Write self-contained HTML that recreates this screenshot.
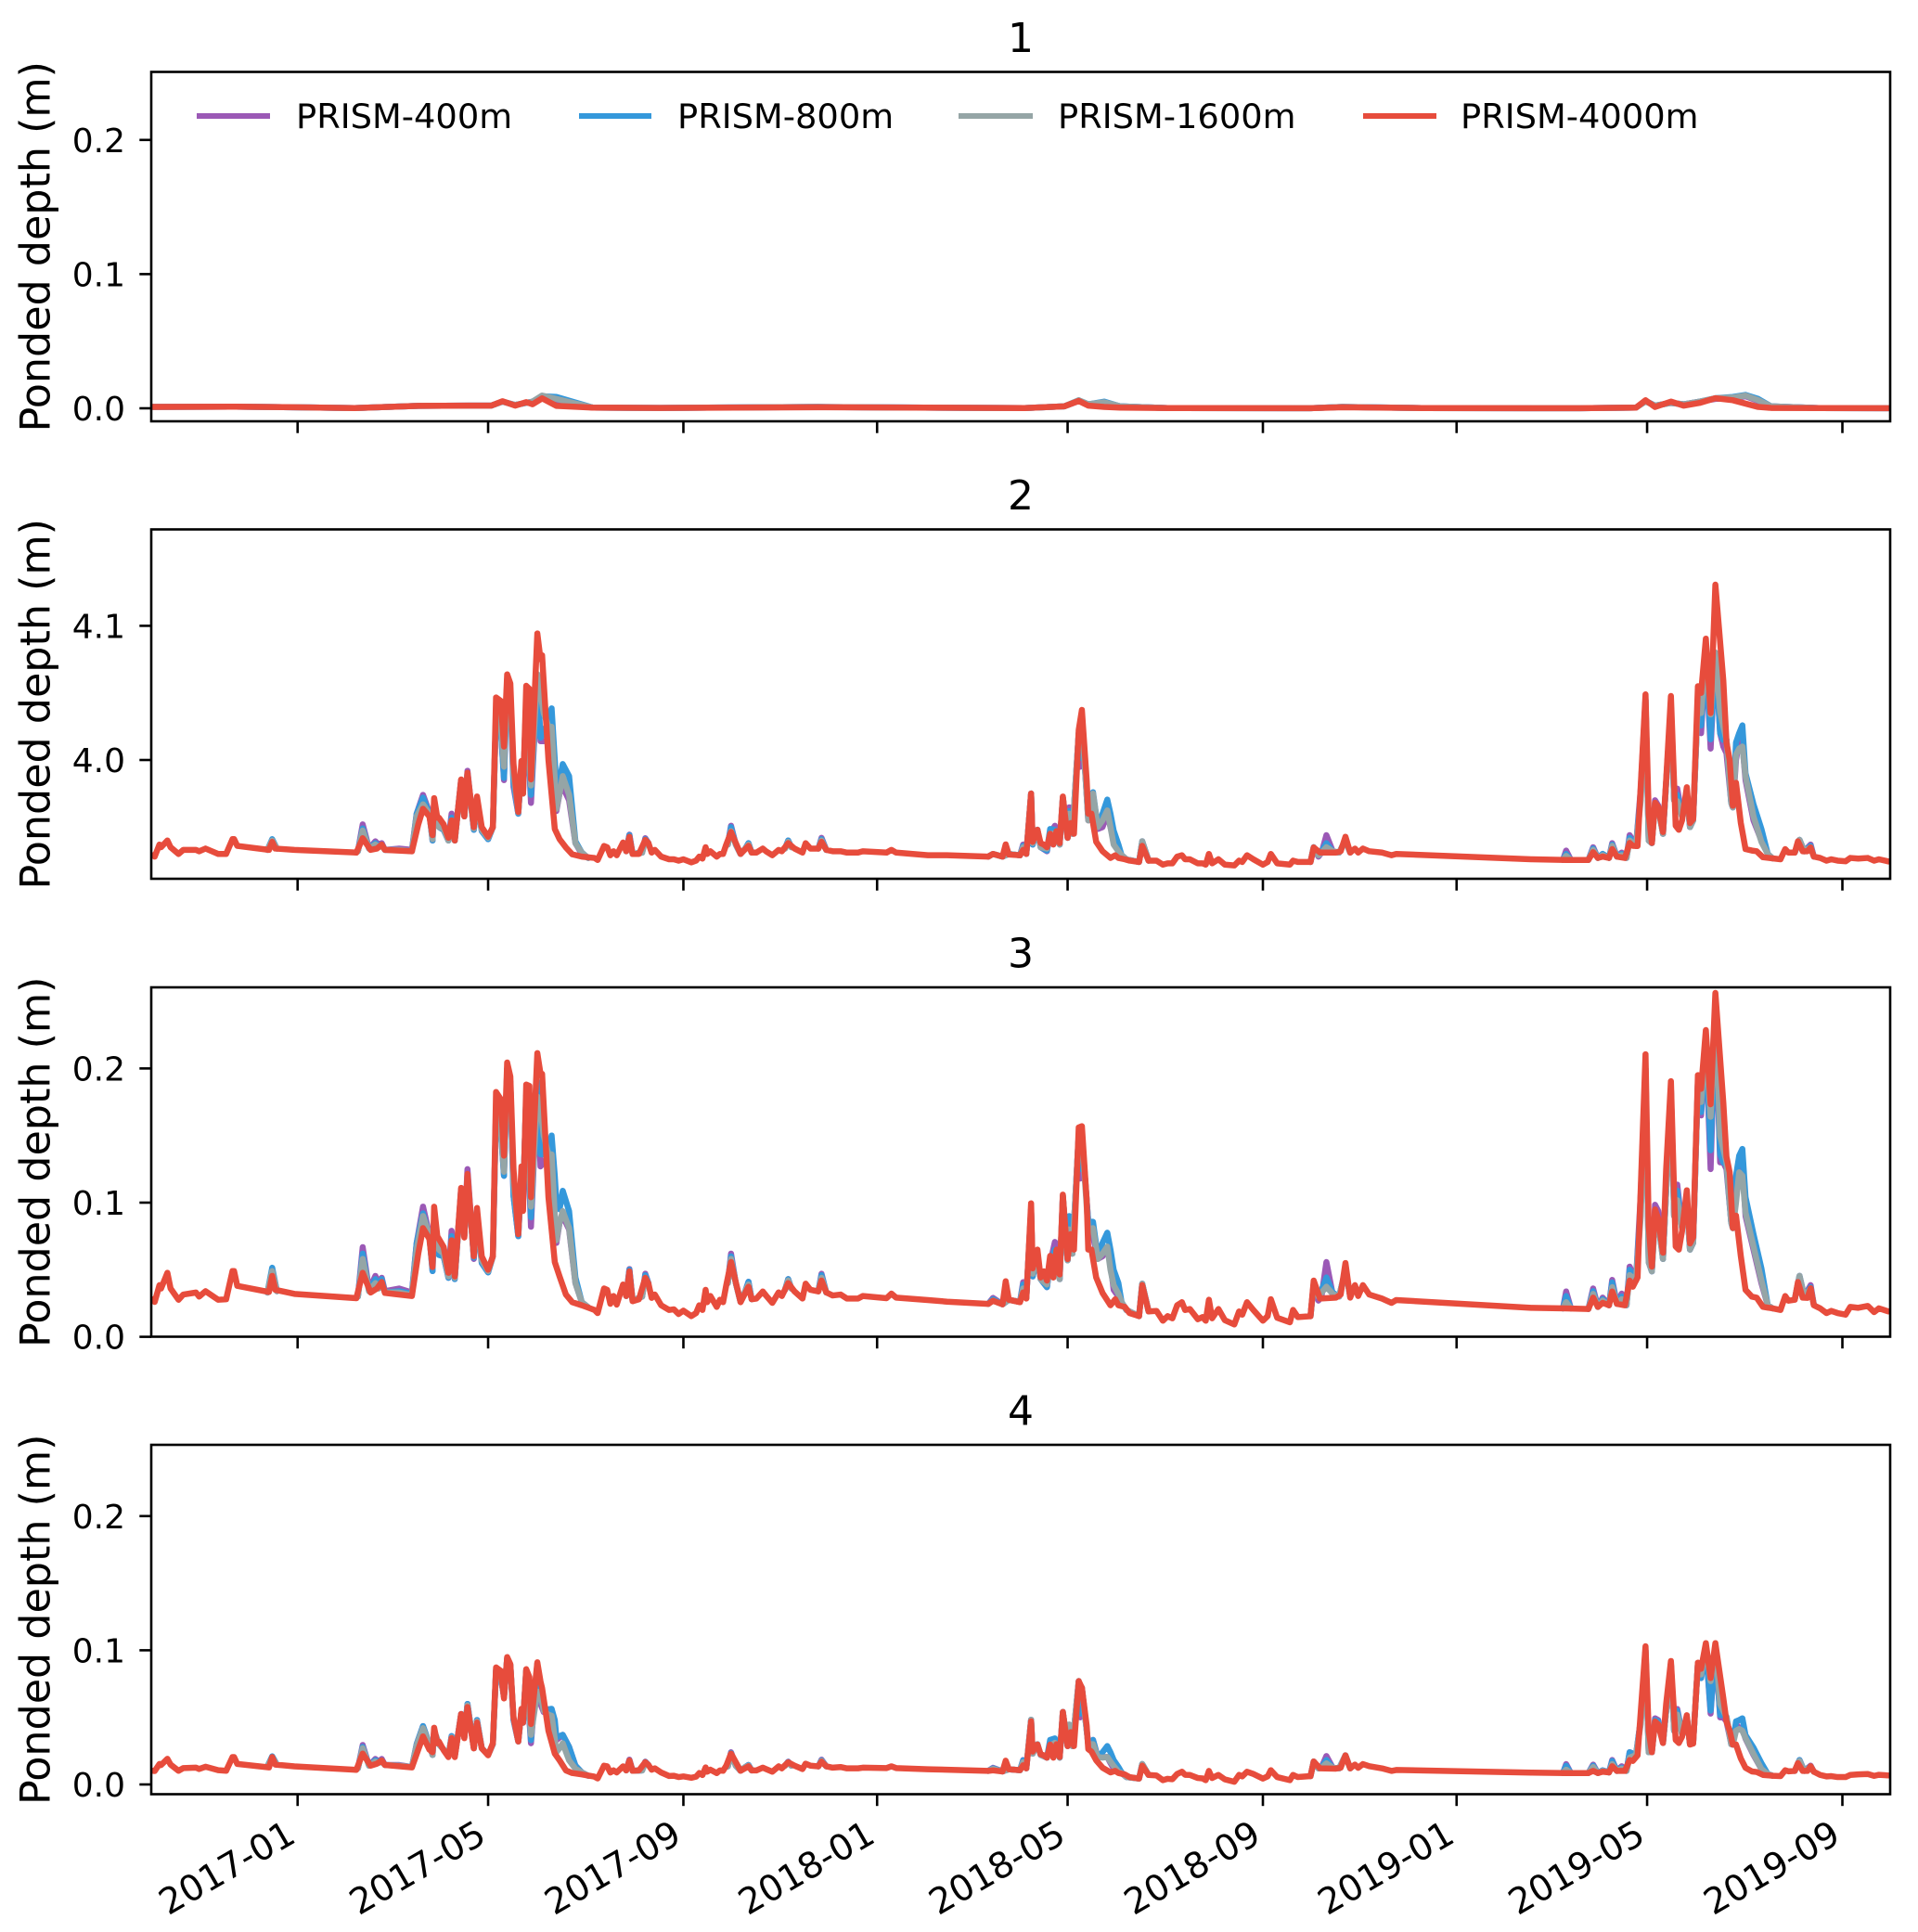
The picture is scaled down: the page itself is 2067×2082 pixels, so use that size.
<!DOCTYPE html>
<html lang="en">
<head>
<meta charset="utf-8">
<title>Ponded depth by PRISM resolution</title>
<style>
html,body{margin:0;padding:0;background:#fff;}
svg{display:block;font-family:"DejaVu Sans","Liberation Sans",sans-serif;fill:#000;}
</style>
</head>
<body>
<svg id="chart" xmlns="http://www.w3.org/2000/svg" width="2067" height="2082" viewBox="0 0 2067 2082">
<rect width="2067" height="2082" fill="#ffffff"/>
<g id="panels"></g>
<g font-size="36.8">
<line x1="212" x2="291" y1="125" y2="125" stroke="#9b59b6" stroke-width="6"/>
<text x="319" y="138">PRISM-400m</text>
<line x1="624" x2="702" y1="125" y2="125" stroke="#3498db" stroke-width="6"/>
<text x="730" y="138">PRISM-800m</text>
<line x1="1033" x2="1113" y1="125" y2="125" stroke="#95a5a6" stroke-width="6"/>
<text x="1140" y="138">PRISM-1600m</text>
<line x1="1469" x2="1548" y1="125" y2="125" stroke="#e74c3c" stroke-width="6"/>
<text x="1574" y="138">PRISM-4000m</text>
</g>
</svg>
<script>
// Categories and tick labels (days are counted from 2016-10-01)
const panelTitles = ['1','2','3','4'];
const yAxisTitle = 'Ponded depth (m)';
const xTickDays = [92,212,335,457,577,700,822,942,1065];
const xTickLabels = ['2017-01','2017-05','2017-09','2018-01','2018-05','2018-09','2019-01','2019-05','2019-09'];
const yTicksLow = [0,0.1,0.2];
const yTicksHigh = [4.0,4.1];

// Panel 1
const days1 = [1,50,90,128,168,200,214,221,229,236,240,246,255,278,320,420,500,550,575,584,590,600,610,640,730,750,800,900,935,941,947,957,965,975,985,996,1004,1012,1020,1050,1094];
const p1Purple = [.001,.0012,.0008,.0002,.0018,.002,.002,.005,.0025,.004,.005,.0085,.006,.0005,.0003,.001,.0004,.0002,.0015,.0055,.003,.004,.0015,.0002,.0001,.001,.0002,.0001,.0005,.0055,.002,.004,.003,.005,.007,.0075,.009,.0055,.0015,.0002,.0001];
const p1Blue = [.001,.0012,.0008,.0002,.0018,.002,.002,.005,.0025,.004,.005,.009,.0085,.0005,.0003,.001,.0004,.0002,.0015,.006,.003,.005,.0015,.0002,.0001,.001,.0002,.0001,.0005,.0055,.002,.004,.003,.005,.0075,.0085,.01,.007,.0015,.0002,.0001];
const p1Gray = [.001,.0012,.0008,.0002,.0018,.002,.002,.005,.0025,.004,.005,.0095,.007,.0005,.0003,.001,.0004,.0002,.0015,.006,.003,.0045,.0015,.0002,.0001,.001,.0002,.0001,.0005,.005,.002,.004,.003,.005,.0075,.008,.0095,.006,.0015,.0002,.0001];
const p1Red = [.001,.0012,.0008,.0002,.0018,.002,.002,.0053,.002,.0046,.003,.0074,.0018,.0005,.0003,.0008,.0004,.0002,.0015,.0055,.002,.001,.0005,.0002,.0001,.0008,.0002,.0001,.0005,.006,.001,.005,.002,.004,.0075,.006,.0035,.001,.0003,.0002,.0001];

// Days for the top (PRISM-4000m) series, panels 2-4
const days = [
1,2,5,6,10,12,17,20,28,30,34,42,47,51,52,54,
74,76,78,90,129,133,138,142,145,147,164,168,171,175,177,178,
180,181,184,187,189,191,195,197,199,203,205,208,212,215,
217,220,222,224,226,228,231,233,234,236,238,239,243,245,246,250,254,257,261,265,
271,279,281,285,287,289,291,293,297,299,301,303,307,311,313,315,317,321,
326,329,332,335,340,343,345,347,349,350,352,356,358,360,362,365,371,376,
378,381,385,387,391,395,397,401,405,410,412,415,420,422,425,429,434,438,445,448,
463,466,469,489,501,527,530,536,538,540,547,549,551,
554,555,558,560,562,564,566,568,570,572,574,577,579,581,
584,586,589,590,592,595,599,604,607,609,613,616,622,624,628,633,637,640,643,
646,649,651,654,659,662,664,666,668,672,676,682,685,687,690,694,700,703,705,709,
717,719,722,730,732,736,746,749,752,755,758,760,763,767,775,781,784,869,891,905,
908,911,914,918,920,923,928,931,933,936,941,943,945,947,949,952,954,
957,960,962,964,967,969,971,974,976,979,982,985,990,992,994,996,998,1001,
1004,1008,1011,1015,1021,1026,1029,1031,1035,1037,1040,1043,1045,1047,1051,1055,1058,1062,1067,1070,1075,1081,1085,1088,1094];

const p2Red = [
3.929,3.928,3.937,3.935,3.94,3.935,3.93,3.933,3.933,3.932,3.934,3.93,3.93,3.941,3.941,3.936,
3.933,3.939,3.934,3.933,3.931,3.9417,3.933,3.934,3.937,3.933,3.932,3.952,3.9636,3.958,3.944,3.9716,
3.957,3.957,3.952,3.942,3.955,3.94,3.9855,3.958,3.9905,3.95,3.9728,3.95,3.9428,3.95,
4.0466,4.044,4.01,4.0638,4.057,3.997,3.9613,3.9993,3.975,4.0553,4.053,3.9855,4.0943,4.075,4.078,4.0,3.9486,3.941,3.9348,3.9297,
3.928,3.927,3.9255,3.9359,3.935,3.929,3.932,3.929,3.9385,3.932,3.9428,3.93,3.93,3.9405,3.938,3.931,3.933,3.928,
3.926,3.926,3.925,3.926,3.9237,3.925,3.928,3.9265,3.935,3.93,3.932,3.928,3.93,3.93,3.937,3.9463,3.93,3.936,
3.931,3.931,3.934,3.932,3.929,3.933,3.932,3.938,3.934,3.931,3.938,3.934,3.934,3.939,3.933,3.932,3.932,3.931,3.931,3.932,
3.931,3.933,3.931,3.929,3.929,3.928,3.93,3.928,3.9371,3.9295,3.929,3.933,3.93,
3.975,3.939,3.948,3.938,3.937,3.935,3.945,3.937,3.947,3.938,3.9728,3.942,3.953,3.945,
4.0224,4.0373,3.985,3.96,3.96,3.939,3.932,3.927,3.929,3.927,3.926,3.925,3.924,3.936,3.925,3.925,3.922,3.923,3.923,
3.928,3.929,3.926,3.926,3.923,3.923,3.922,3.93,3.923,3.926,3.922,3.9214,3.925,3.924,3.929,3.926,3.922,3.924,3.93,3.923,
3.922,3.925,3.924,3.924,3.9348,3.931,3.931,3.932,3.9428,3.931,3.934,3.931,3.934,3.932,3.931,3.929,3.93,3.926,3.9255,3.9255,
3.9313,3.927,3.928,3.927,3.9336,3.928,3.927,3.9382,3.936,3.9359,4.0489,3.96,3.9382,3.9682,3.965,3.9463,3.985,
4.0477,3.951,3.948,3.955,3.9797,3.953,3.956,4.055,4.05,4.0904,4.035,4.1307,4.0592,4.0131,4.0,3.9659,3.983,3.9532,
3.9336,3.9325,3.932,3.9275,3.9267,3.926,3.9336,3.931,3.931,3.9394,3.932,3.932,3.9348,3.928,3.927,3.925,3.926,3.925,3.9245,3.927,3.9265,3.927,3.925,3.926,3.9244];

const p3Red = [
.028,.026,.0385,.036,.0477,.036,.0276,.0315,.033,.03,.034,.0276,.028,.049,.049,.038,
.0334,.0454,.035,.032,.0288,.0477,.033,.036,.0408,.0327,.0304,.062,.081,.073,.052,.097,
.075,.073,.067,.0477,.0719,.045,.111,.074,.1214,.06,.096,.06,.05,.06,
.1825,.177,.135,.2044,.194,.125,.0765,.127,.0938,.188,.187,.104,.2114,.196,.196,.104,.0557,.045,.0315,.0258,
.0235,.02,.0177,.036,.035,.0246,.0304,.024,.039,.0304,.0488,.0265,.028,.044,.0396,.029,.0315,.0235,
.02,.0205,.017,.0195,.0154,.0177,.0235,.02,.035,.0258,.0304,.0223,.0276,.0258,.0385,.0557,.0258,.0373,
.028,.0285,.0338,.0308,.0253,.0331,.0304,.04,.0338,.0285,.0396,.035,.0338,.0419,.0331,.0308,.0315,.0285,.0285,.0304,
.0288,.0322,.0292,.0274,.0262,.0245,.0269,.0242,.0414,.0276,.0258,.0331,.0285,
.0995,.051,.065,.0442,.0488,.0419,.0603,.0442,.065,.0465,.106,.058,.0765,.065,
.156,.157,.102,.065,.065,.0442,.0327,.0235,.028,.0235,.0223,.0177,.0154,.0385,.0189,.0193,.012,.0154,.0138,
.0235,.0258,.02,.0207,.0131,.0147,.012,.0276,.0138,.0207,.0124,.0092,.0189,.0165,.0258,.02,.012,.0154,.028,.0142,
.0108,.02,.0147,.0154,.0419,.0285,.0292,.0315,.055,.0292,.0385,.0304,.0385,.0315,.0285,.0253,.0274,.0216,.0212,.0207,
.0292,.0223,.0253,.0235,.0338,.0246,.0235,.0419,.0373,.0442,.2106,.0834,.0523,.0949,.088,.0627,.1249,
.1905,.0673,.065,.0788,.1092,.0696,.0742,.195,.1848,.2286,.1733,.2563,.1745,.1341,.1226,.0811,.0903,.0603,
.035,.0299,.0292,.0223,.0212,.02,.0304,.0269,.0276,.0408,.0292,.029,.0362,.0235,.0212,.0177,.0193,.0177,.0165,.0223,.0216,.023,.0184,.0212,.0189];

const p4Red = [
.0102,.01,.0153,.0145,.0191,.0148,.0102,.0122,.0125,.0115,.0132,.0106,.0102,.0204,.0204,.0153,
.0127,.0204,.0148,.0135,.0109,.023,.014,.0155,.0179,.0145,.0127,.026,.0358,.026,.024,.0423,
.0307,.032,.0255,.0204,.0345,.0204,.0525,.0345,.0577,.0269,.0461,.0269,.0217,.0307,
.0872,.0846,.0641,.0949,.0897,.05,.032,.0564,.0461,.0859,.08,.045,.091,.0768,.0718,.04,.023,.018,.0105,.0085,
.0075,.0058,.0045,.014,.0135,.0089,.0105,.009,.0135,.0105,.0179,.0102,.0105,.0166,.0145,.011,.012,.0089,
.0063,.0065,.0055,.006,.005,.0058,.0085,.007,.0127,.0095,.011,.0085,.0105,.0102,.014,.023,.0102,.0135,
.0105,.0105,.0125,.0115,.0095,.0135,.012,.0165,.014,.0115,.0155,.014,.0135,.017,.0135,.0125,.013,.012,.012,.0125,
.0122,.0135,.0122,.0113,.011,.0101,.0105,.0097,.0177,.0113,.0106,.0143,.012,
.047,.0245,.0297,.0225,.0217,.02,.0297,.02,.03,.0205,.054,.0286,.039,.0286,
.077,.072,.044,.0263,.0245,.018,.0125,.009,.0101,.0085,.0075,.0055,.0044,.014,.0071,.0067,.0032,.0042,.0039,
.0078,.0095,.0072,.0071,.0048,.0045,.0032,.0101,.0048,.0071,.0038,.002,.0071,.006,.0095,.0078,.0044,.006,.0106,.0055,
.0032,.0071,.0055,.0062,.0171,.012,.0118,.0125,.0217,.012,.0148,.0124,.0152,.0136,.012,.0101,.0108,.0088,.0085,.0085,
.0101,.0085,.0095,.009,.0136,.0101,.0101,.0182,.0175,.0217,.103,.04,.024,.047,.0447,.0309,.06,
.092,.0332,.0309,.0355,.0516,.0297,.0305,.0908,.0862,.1053,.0793,.1053,.0643,.047,.04,.0297,.0297,.0194,
.0124,.0097,.0093,.0071,.0065,.0062,.0106,.0098,.0101,.0159,.0101,.0101,.0136,.0095,.0071,.006,.0062,.0055,.0055,.0071,.0075,.0078,.0064,.0072,.0067];

// Days where the finer-grid series show from under the PRISM-4000m line, panels 2-4
const bgDays = [
73,76,79,
130,133,137,141,143,145,147,156,164,
167,171,175,177,178,181,184,187,189,191,195,197,199,203,205,208,212,215,
217,220,222,224,226,228,231,233,234,236,239,243,245,247,250,252,254,255,257,259,263,267,271,275,
299,301,303,309,311,313,363,365,368,371,374,376,378,399,401,403,420,422,425,
527,530,536,540,547,549,551,554,555,558,560,564,566,569,572,574,577,578,580,
584,585,586,590,593,596,599,602,604,606,609,611,614,622,624,628,
730,732,735,737,740,744,748,752,755,
889,891,894,905,908,911,914,918,920,923,926,929,931,935,938,941,943,945,947,949,952,
957,959,961,964,967,969,971,974,976,979,982,985,988,990,992,995,996,998,
1000,1002,1004,1009,1014,1018,1021,1035,1038,1041,1045,1047];

const p2Purple = [
3.933,3.94,3.934,
3.932,3.952,3.934,3.9394,3.937,3.938,3.933,3.934,3.933,
3.96,3.974,3.961,3.94,3.968,3.95,3.948,3.94,3.96,3.94,3.985,3.958,3.992,3.948,3.97,3.947,3.941,3.95,
4.035,4.025,3.985,4.06,4.05,3.98,3.96,3.995,3.975,4.045,3.968,4.06,4.014,4.014,4.015,4.02,3.985,3.962,3.975,3.98,3.97,3.938,3.93,3.927,
3.932,3.9444,3.93,3.931,3.9417,3.938,3.937,3.951,3.937,3.93,3.934,3.938,3.931,3.934,3.94,3.935,3.934,3.942,3.933,
3.928,3.93,3.928,3.93,3.929,3.937,3.93,3.975,3.937,3.948,3.935,3.932,3.945,3.951,3.937,3.972,3.942,3.9647,3.945,
4.02,3.995,4.03,3.955,3.96,3.9486,3.95,3.96,3.95,3.94,3.933,3.929,3.926,3.924,3.9394,3.925,
3.924,3.935,3.928,3.931,3.944,3.932,3.931,3.94,3.931,
3.9255,3.9325,3.9255,3.9255,3.935,3.927,3.93,3.927,3.938,3.928,3.931,3.927,3.944,3.936,3.9786,4.045,3.94,3.938,3.97,3.966,3.945,
4.04,3.97,3.9786,3.958,3.975,3.95,3.955,4.045,4.02,4.08,4.0085,4.08,4.02,4.01,4.005,3.968,3.9647,4.0,
4.0154,4.012,3.985,3.955,3.94,3.93,3.9267,3.931,3.9405,3.932,3.937,3.928];
const p2Blue = [
3.933,3.941,3.934,
3.932,3.949,3.934,3.938,3.936,3.937,3.933,3.933,3.932,
3.96,3.972,3.96,3.94,3.968,3.95,3.948,3.94,3.957,3.94,3.985,3.958,3.99,3.948,3.97,3.947,3.941,3.95,
4.035,4.025,3.9866,4.06,4.05,3.983,3.96,3.995,3.975,4.045,3.974,4.06,4.0166,4.02,4.03,4.0385,4.0,3.981,3.985,3.997,3.988,3.9394,3.931,3.927,
3.932,3.944,3.93,3.931,3.941,3.938,3.937,3.95,3.937,3.93,3.934,3.938,3.931,3.934,3.94,3.935,3.934,3.941,3.933,
3.928,3.93,3.928,3.93,3.929,3.936,3.93,3.975,3.937,3.948,3.935,3.9325,3.9486,3.948,3.937,3.972,3.942,3.962,3.945,
4.02,4.0016,4.03,3.9567,3.976,3.95,3.96,3.9705,3.96,3.9474,3.937,3.929,3.926,3.924,3.9394,3.925,
3.924,3.935,3.929,3.932,3.938,3.932,3.931,3.94,3.931,
3.9255,3.93,3.9255,3.9255,3.934,3.927,3.93,3.927,3.937,3.928,3.93,3.927,3.942,3.936,3.975,4.045,3.94,3.938,3.968,3.964,3.945,
4.04,3.97,3.974,3.958,3.975,3.95,3.955,4.045,4.0258,4.08,4.0154,4.08,4.02,4.015,4.015,3.968,3.9647,4.013,
4.02,4.0258,3.99,3.967,3.9486,3.93,3.9267,3.931,3.9405,3.932,3.936,3.928];
const p2Gray = [
3.933,3.94,3.934,
3.932,3.9474,3.934,3.937,3.935,3.936,3.933,3.933,3.932,
3.958,3.967,3.96,3.941,3.968,3.95,3.949,3.94,3.955,3.94,3.984,3.958,3.99,3.949,3.97,3.948,3.942,3.95,
4.035,4.03,3.995,4.06,4.05,3.99,3.961,3.995,3.975,4.045,3.981,4.064,4.05,4.035,4.025,4.0247,3.985,3.9636,3.975,3.988,3.974,3.938,3.931,3.927,
3.932,3.942,3.93,3.931,3.94,3.938,3.937,3.947,3.937,3.93,3.934,3.937,3.931,3.934,3.939,3.935,3.934,3.94,3.933,
3.928,3.93,3.928,3.93,3.929,3.935,3.93,3.975,3.938,3.948,3.935,3.934,3.945,3.945,3.937,3.972,3.942,3.96,3.945,
4.02,4.01,4.03,3.955,3.975,3.95,3.955,3.9624,3.95,3.937,3.932,3.929,3.926,3.924,3.9394,3.925,
3.924,3.935,3.929,3.931,3.935,3.932,3.931,3.94,3.931,
3.9255,3.9285,3.9255,3.9255,3.933,3.927,3.929,3.927,3.936,3.928,3.929,3.927,3.94,3.936,3.97,4.045,3.94,3.938,3.967,3.964,3.945,
4.04,3.97,3.9693,3.958,3.975,3.95,3.955,4.045,4.035,4.08,4.034,4.08,4.036,4.025,4.015,3.968,3.9647,4.004,
4.0085,4.01,3.9878,3.958,3.939,3.93,3.9267,3.931,3.9405,3.932,3.935,3.928];

const p3Purple = [
.033,.049,.034,
.03,.0668,.035,.0454,.04,.044,.034,.036,.033,
.07,.097,.076,.049,.09,.063,.06,.044,.079,.043,.11,.075,.125,.058,.09,.055,.048,.06,
.17,.155,.12,.2,.19,.105,.075,.12,.1,.18,.082,.19,.127,.13,.134,.135,.09,.07,.085,.09,.08,.04,.0258,.022,
.0304,.0505,.027,.03,.047,.04,.04,.062,.04,.026,.034,.041,.028,.035,.043,.036,.034,.047,.033,
.0245,.029,.0242,.0276,.026,.0407,.029,.095,.045,.06,.043,.037,.055,.0707,.043,.105,.057,.088,.062,
.15,.118,.15,.0857,.075,.058,.06,.066,.055,.035,.03,.0258,.02,.0154,.0396,.019,
.0154,.0395,.027,.031,.0557,.0315,.03,.05,.03,
.0212,.0338,.0212,.0207,.036,.0223,.0292,.0235,.0424,.0246,.0322,.0235,.0523,.042,.1065,.2,.0557,.0488,.0984,.0938,.058,
.185,.09,.1134,.081,.1,.065,.07,.19,.165,.22,.125,.24,.13,.13,.125,.085,.081,.115,
.1295,.13,.09,.065,.04,.0235,.0212,.028,.0454,.03,.0385,.024];
const p3Blue = [
.033,.0515,.034,
.03,.062,.034,.043,.038,.043,.033,.034,.032,
.07,.092,.075,.049,.09,.061,.06,.044,.075,.043,.11,.075,.12,.059,.09,.055,.048,.06,
.17,.155,.12,.2,.19,.105,.075,.12,.1,.18,.089,.19,.136,.136,.14,.15,.12,.1,.095,.1088,.0937,.0442,.0258,.022,
.0304,.05,.027,.03,.046,.04,.04,.06,.04,.026,.034,.041,.028,.035,.043,.036,.034,.046,.033,
.0245,.028,.0242,.0276,.026,.039,.029,.095,.045,.06,.043,.037,.055,.065,.043,.105,.057,.09,.062,
.15,.125,.15,.0857,.0857,.06,.07,.0776,.065,.05,.04,.0258,.02,.0154,.0396,.019,
.0154,.0395,.03,.035,.0442,.033,.03,.05,.03,
.0212,.0304,.0212,.0207,.034,.0223,.028,.0235,.0405,.0246,.03,.0235,.05,.042,.1,.2,.0557,.0488,.09,.085,.058,
.185,.09,.1088,.081,.1,.065,.07,.19,.1675,.22,.139,.24,.136,.13,.128,.085,.081,.12,
.135,.14,.104,.0765,.051,.0235,.0212,.028,.0454,.03,.037,.024];
const p3Gray = [
.033,.049,.034,
.03,.058,.034,.04,.036,.04,.033,.033,.031,
.065,.09,.076,.052,.09,.065,.062,.045,.07,.044,.108,.075,.12,.06,.09,.057,.049,.06,
.17,.158,.123,.2,.19,.115,.078,.12,.1,.18,.097,.179,.17,.15,.136,.136,.09,.072,.085,.0937,.081,.04,.0258,.022,
.0304,.047,.027,.03,.044,.04,.04,.058,.04,.026,.034,.039,.028,.035,.042,.036,.034,.044,.033,
.0245,.027,.0242,.0276,.026,.036,.029,.095,.047,.06,.043,.039,.055,.06,.043,.105,.057,.08,.062,
.15,.143,.15,.08,.081,.058,.062,.0672,.05,.0385,.032,.0258,.02,.0154,.0396,.019,
.0154,.0395,.03,.033,.0373,.032,.03,.05,.03,
.0212,.0258,.0212,.0207,.032,.0223,.027,.0235,.037,.0246,.028,.0235,.046,.042,.09,.2,.0557,.0488,.088,.085,.058,
.185,.09,.1018,.081,.1,.065,.07,.19,.175,.22,.164,.24,.15,.14,.13,.085,.081,.1,
.1226,.12,.0926,.0673,.042,.0235,.0212,.028,.0454,.03,.036,.024];

const p4Purple = [
.0135,.0205,.0148,
.012,.0294,.014,.019,.017,.019,.0145,.0145,.013,
.03,.0435,.03,.022,.04,.03,.026,.021,.036,.021,.0525,.035,.06,.027,.048,.027,.022,.03,
.085,.08,.0654,.094,.089,.048,.032,.055,.046,.085,.0307,.09,.06,.054,.054,.056,.045,.033,.035,.037,.028,.014,.009,.0065,
.0105,.0185,.0102,.0105,.017,.0145,.0135,.024,.014,.0102,.013,.0145,.0105,.014,.017,.014,.0135,.0185,.0135,
.0101,.0124,.0097,.0113,.0106,.0182,.012,.0482,.023,.03,.022,.02,.03,.032,.02,.054,.0286,.043,.0286,
.077,.05,.072,.03,.0332,.0205,.0205,.0205,.016,.012,.0095,.0085,.0055,.0044,.0152,.0071,
.0062,.0171,.012,.013,.0212,.0125,.012,.0217,.012,
.0085,.0152,.0085,.0085,.0148,.0085,.0105,.009,.0182,.0101,.0136,.0101,.024,.022,.048,.1,.024,.024,.0493,.048,.031,
.09,.04,.0562,.0378,.05,.03,.031,.09,.0793,.103,.0528,.103,.05,.05,.047,.03,.0297,.045,
.042,.042,.034,.022,.0115,.0078,.0065,.0101,.0182,.0101,.014,.0095];
const p4Blue = [
.0135,.021,.0148,
.012,.028,.014,.018,.017,.018,.0145,.014,.013,
.03,.0435,.03,.022,.04,.03,.026,.021,.036,.021,.0525,.035,.06,.027,.048,.027,.022,.03,
.085,.08,.0654,.094,.089,.048,.032,.055,.046,.085,.033,.09,.065,.056,.056,.0564,.048,.035,.036,.037,.028,.014,.009,.0065,
.0105,.018,.0102,.0105,.0168,.0145,.0135,.0235,.014,.0102,.013,.0145,.0105,.014,.0168,.014,.0135,.018,.0135,
.0101,.012,.0097,.0113,.0106,.018,.012,.0482,.023,.03,.022,.02,.0332,.0343,.02,.054,.0286,.044,.0286,
.077,.0528,.072,.03,.0332,.02,.024,.0286,.024,.0182,.013,.009,.0055,.0044,.0152,.0071,
.0062,.0171,.012,.013,.0182,.0125,.012,.0217,.012,
.0085,.014,.0085,.0085,.014,.0085,.0105,.009,.0175,.0101,.0125,.0101,.024,.022,.048,.1,.024,.024,.048,.047,.031,
.09,.04,.055,.0378,.05,.03,.031,.09,.0793,.103,.055,.103,.0516,.052,.0505,.03,.0297,.047,
.048,.0493,.0367,.0274,.0159,.0078,.0065,.0101,.0182,.0101,.0136,.0095];
const p4Gray = [
.0135,.02,.0148,
.012,.027,.014,.017,.016,.017,.0145,.014,.013,
.029,.042,.03,.022,.04,.03,.026,.021,.035,.021,.052,.035,.059,.027,.047,.027,.022,.03,
.085,.082,.0654,.094,.089,.05,.032,.055,.046,.085,.037,.0692,.068,.055,.052,.0512,.034,.024,.027,.0307,.018,.0117,.009,.0065,
.0105,.017,.0102,.0105,.016,.0145,.0135,.0225,.014,.0102,.013,.014,.0105,.014,.0165,.014,.0135,.0175,.0135,
.0101,.0115,.0097,.0113,.0106,.0165,.012,.0482,.023,.03,.022,.02,.029,.031,.02,.054,.0286,.0447,.0286,
.077,.0689,.072,.03,.03,.0205,.02,.0205,.017,.0138,.0095,.0085,.0055,.0044,.0152,.0071,
.0062,.0171,.012,.0125,.0157,.0125,.012,.0217,.012,
.0085,.011,.0085,.0085,.013,.0085,.01,.009,.0152,.0101,.0118,.0101,.02,.022,.045,.1,.024,.024,.046,.045,.031,
.09,.04,.052,.0378,.05,.03,.031,.09,.082,.103,.077,.103,.06,.055,.05,.03,.0297,.04,
.0413,.04,.0345,.0227,.0115,.0078,.0065,.0101,.0175,.0101,.013,.0095];

// Layout and axis functions
const NS = 'http://www.w3.org/2000/svg';
const plotLeft = 163, plotRight = 2037, plotHeight = 376.5;
const xScale = d => 163.3 + 1.711 * d;
const pxPerUnit = 1446;
const layout = [
  {top:77.5, refValue:0, refY:440, ticks:yTicksLow, fmt:1},
  {top:570.5, refValue:4, refY:819, ticks:yTicksHigh, fmt:1},
  {top:1064, refValue:0, refY:1440.6, ticks:yTicksLow, fmt:1},
  {top:1557, refValue:0, refY:1923, ticks:yTicksLow, fmt:1}
];
const seriesNames = ['prism-400m','prism-800m','prism-1600m','prism-4000m'];
const seriesColors = ['#9b59b6','#3498db','#95a5a6','#e74c3c'];
const panelSeries = [
  [[days1,p1Purple],[days1,p1Blue],[days1,p1Gray],[days1,p1Red]],
  [[bgDays,p2Purple],[bgDays,p2Blue],[bgDays,p2Gray],[days,p2Red]],
  [[bgDays,p3Purple],[bgDays,p3Blue],[bgDays,p3Gray],[days,p3Red]],
  [[bgDays,p4Purple],[bgDays,p4Blue],[bgDays,p4Gray],[days,p4Red]]
];

function make(tag, attrs, parent) {
  const el = document.createElementNS(NS, tag);
  for (const k in attrs) el.setAttribute(k, attrs[k]);
  parent.appendChild(el);
  return el;
}

function buildPath(xs, ys, yScale, maxGap) {
  const n = Math.min(xs.length, ys.length);
  let d = '';
  for (let i = 0; i < n; i++) {
    const startNew = i === 0 || xs[i] - xs[i - 1] > maxGap;
    d += (startNew ? 'M' : 'L') + xScale(xs[i]).toFixed(2) + ' ' + yScale(ys[i]).toFixed(2);
  }
  return d;
}

const root = document.getElementById('panels');
const defs = make('defs', {}, root);

layout.forEach((p, idx) => {
  const bottom = p.top + plotHeight;
  const yScale = v => p.refY - (v - p.refValue) * pxPerUnit;
  const g = make('g', {}, root);
  
  

  const clip = make('clipPath', {id: 'clip' + idx}, defs);
  make('rect', {x: plotLeft, y: p.top, width: plotRight - plotLeft, height: plotHeight}, clip);

  const title = make('text', {x: (plotLeft + plotRight) / 2, y: p.top - 21.5, 'text-anchor': 'middle', 'font-size': 44}, g);
  title.textContent = panelTitles[idx];
  
  

  const yLabel = make('text', {transform: 'translate(53.5 ' + (p.top + plotHeight / 2) + ') rotate(-90)', 'text-anchor': 'middle', 'font-size': 44.4}, g);
  yLabel.textContent = yAxisTitle;
  
  

  const lines = make('g', {'clip-path': 'url(#clip' + idx + ')', fill: 'none', 'stroke-width': 6.5, 'stroke-linejoin': 'round', 'stroke-linecap': 'round'}, g);
  
  
  panelSeries[idx].forEach((s, si) => {
    const maxGap = (idx === 0 || si === 3) ? Infinity : 10;
    const path = make('path', {d: buildPath(s[0], s[1], yScale, maxGap), stroke: seriesColors[si]}, lines);
    
    
  });

  p.ticks.forEach(t => {
    const y = yScale(t);
    const tick = make('line', {x1: plotLeft - 12.7, x2: plotLeft, y1: y, y2: y, stroke: '#000', 'stroke-width': 2.6}, g);
    
    
    const lab = make('text', {x: 135, y: y + 13.1, 'text-anchor': 'end', 'font-size': 36}, g);
    lab.textContent = t.toFixed(p.fmt);
    
    
  });

  xTickDays.forEach((d, ti) => {
    const x = xScale(d);
    const tick = make('line', {x1: x, x2: x, y1: bottom, y2: bottom + 12.7, stroke: '#000', 'stroke-width': 2.6}, g);
    
    
    if (idx === 3) {
      const lab = make('text', {transform: 'translate(' + x + ' ' + 1984 + ') rotate(-30)', 'text-anchor': 'end', 'font-size': 38.5}, g);
      lab.textContent = xTickLabels[ti];
      
      
    }
  });

  const frame = make('rect', {x: plotLeft, y: p.top, width: plotRight - plotLeft, height: plotHeight, fill: 'none', stroke: '#000', 'stroke-width': 2.6}, g);
  
  
});
</script>
</body>
</html>
